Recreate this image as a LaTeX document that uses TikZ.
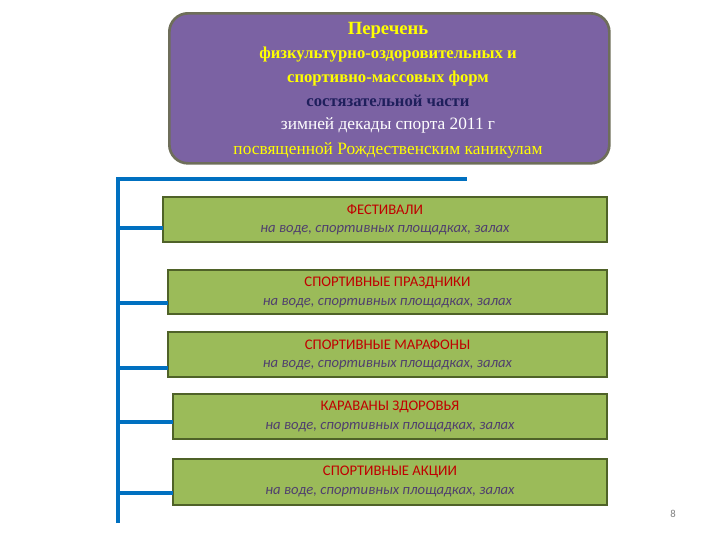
\documentclass[tikz,border=0pt]{standalone}
\usepackage{fontspec}
\setmainfont{Liberation Serif}
\newfontfamily\calfnt{Carlito}
\definecolor{tbox}{HTML}{7B62A3}
\definecolor{tbord}{HTML}{6E6E5A}
\definecolor{gbox}{HTML}{9BBB59}
\definecolor{gbord}{HTML}{4F6228}
\definecolor{ttl}{HTML}{FFFF00}
\definecolor{navy}{HTML}{1F1F5C}
\definecolor{rtext}{HTML}{C00000}
\definecolor{itext}{HTML}{50406E}
\definecolor{bline}{HTML}{0070C0}
\begin{document}
\begin{tikzpicture}[x=0.75pt,y=-0.75pt,
  gb/.style={draw=gbord,line width=1.2pt,fill=gbox},
  conn/.style={draw=bline,line width=2.6pt},
  hd/.style={font=\calfnt\fontsize{11}{13}\selectfont,text=rtext},
  sub/.style={font=\calfnt\itshape\fontsize{11}{13}\selectfont,text=itext},
  tl/.style={font=\bfseries\fontsize{12.5}{14}\selectfont,text=ttl}]
\useasboundingbox (0,0) rectangle (720,540);
\node[draw=tbord,line width=2pt,fill=tbox,rounded corners=14pt,minimum width=440*0.75pt,minimum height=150*0.75pt,anchor=north west] (title) at (168,12) {};
\node[tl,font=\bfseries\fontsize{14}{16}\selectfont] (t1) at (388,30) {Перечень};
\node[tl] (t2) at (388,55) {физкультурно-оздоровительных и};
\node[tl] (t3) at (388,78) {спортивно-массовых форм};
\node[tl,text=navy] (t4) at (388,101) {состязательной части};
\node[font=\fontsize{13}{15}\selectfont,text=white] (t5) at (388,125) {зимней декады спорта 2011 г};
\node[font=\fontsize{13}{15}\selectfont,text=ttl] (t6) at (388,150) {посвященной Рождественским каникулам};
\foreach \n/\xl/\yt/\yb/\by/\h in {
 b1/163/197/242/228/ФЕСТИВАЛИ,
 b2/168/270/314/303/СПОРТИВНЫЕ ПРАЗДНИКИ,
 b3/168/332/377/368/СПОРТИВНЫЕ МАРАФОНЫ,
 b4/173/394/439/422/КАРАВАНЫ ЗДОРОВЬЯ,
 b5/173/459/505/493/СПОРТИВНЫЕ АКЦИИ}{
  \path[gb] (\xl,\yt) rectangle (607,\yb);
  \coordinate (\n) at (\xl,\by);
  \node[hd] (\n h) at ({(\xl+607)/2},{\yt+13}) {\h};
  \node[sub] (\n s) at ({(\xl+607)/2},{\yt+33}) {на воде, спортивных площадках, залах};
  \coordinate (\n a) at (118,\by);
  \draw[conn] (\n a) -- (\n);
}
\coordinate (vt) at (118,179);
\coordinate (vb) at (118,523);
\coordinate (ht) at (467,179);
\draw[conn] (vb) -- (vt) -- (ht);
\node[font=\calfnt\fontsize{8}{9}\selectfont,text=gray] (pg) at (673,514) {8};
\end{tikzpicture}
\end{document}
